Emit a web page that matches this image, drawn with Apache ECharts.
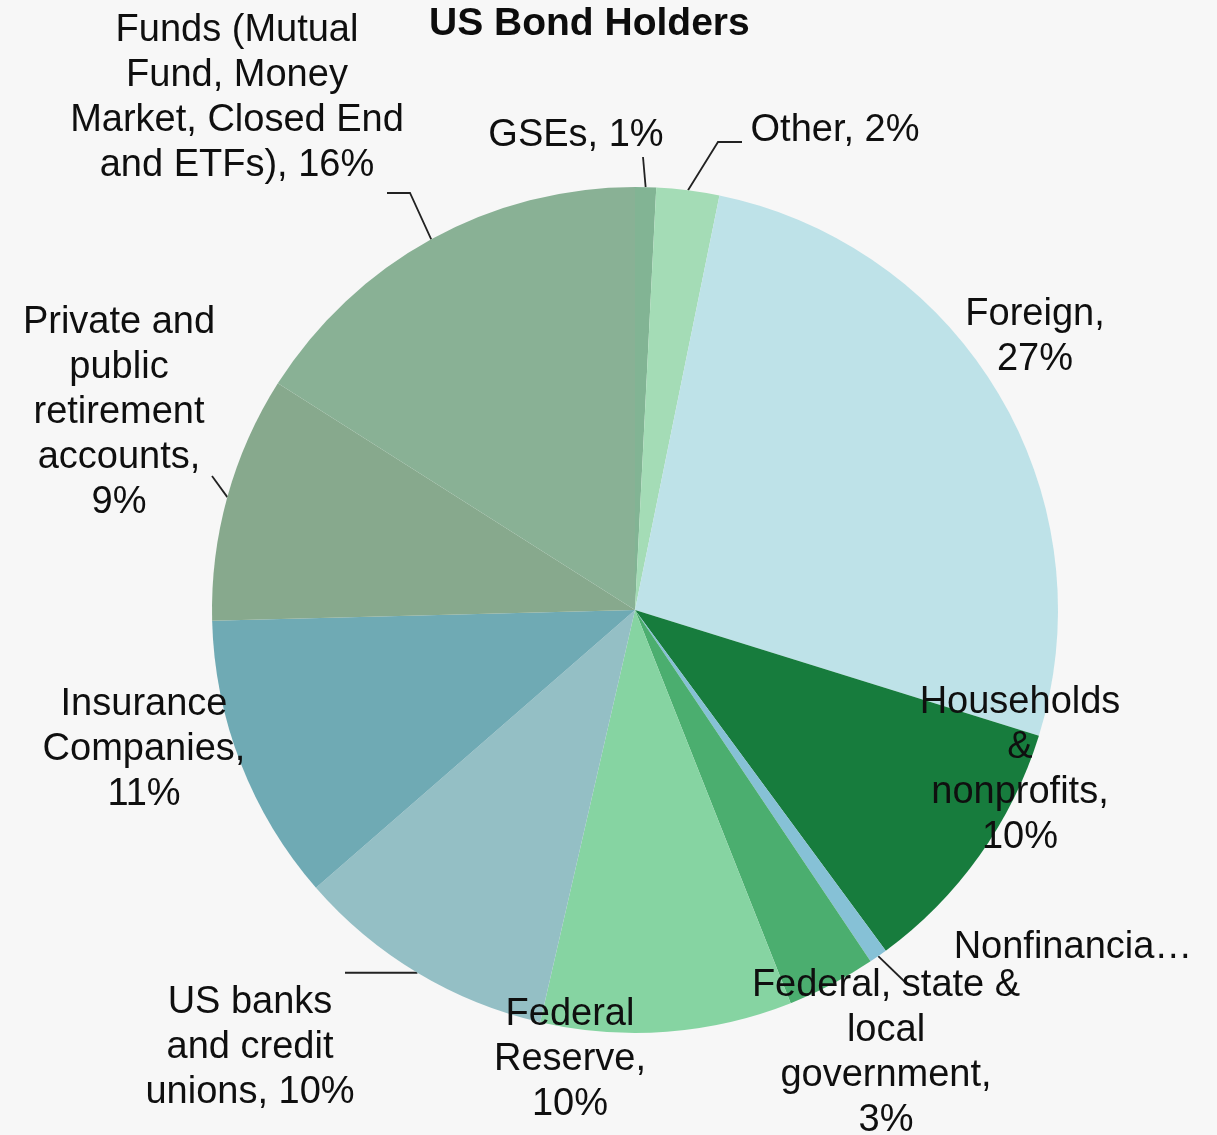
<!DOCTYPE html>
<html>
<head>
<meta charset="utf-8">
<title>US Bond Holders</title>
<script src="https://cdn.jsdelivr.net/npm/echarts@6/dist/echarts.min.js"></script>
<style>
  html, body { margin: 0; padding: 0; background: #f7f7f7; }
  #chart { width: 1217px; height: 1135px; }
</style>
</head>
<body>
<div id="chart"></div>
<script>
// Holders of US bonds, share of total (%), clockwise from 12 o'clock
const categories = [
  'GSEs',
  'Other',
  'Foreign',
  'Households & nonprofits',
  'Nonfinancial corporate business',
  'Federal, state & local government',
  'Federal Reserve',
  'US banks and credit unions',
  'Insurance Companies',
  'Private and public retirement accounts',
  'Funds (Mutual Fund, Money Market, Closed End and ETFs)'
];
const shares = [0.8, 2.4, 26.6, 10.1, 0.7, 3.4, 9.6, 10.0, 11.0, 9.4, 16.0];

// Label text as wrapped on the chart; {p} is replaced by the rounded share
const labelText = [
  'GSEs, {p}',
  'Other, {p}',
  'Foreign,\n{p}',
  'Households\n&\nnonprofits,\n{p}',
  'Nonfinancial corporate business, {p}',
  'Federal, state &\nlocal\ngovernment,\n{p}',
  'Federal\nReserve,\n{p}',
  'US banks\nand credit\nunions, {p}',
  'Insurance\nCompanies,\n{p}',
  'Private and\npublic\nretirement\naccounts,\n{p}',
  'Funds (Mutual\nFund, Money\nMarket, Closed End\nand ETFs), {p}'
];

const colors = [
  '#82b494', '#a4dcb6', '#bee2e8', '#177c3d', '#86c1d6', '#4bae6f',
  '#86d4a2', '#94bfc5', '#6faab4', '#87a98d', '#89b195'
];

// Label block centres
const labelCenter = [
  [576, 136], [835, 131], [1035, 337], [1020, 770], [1073, 948],
  [886, 1053], [570, 1060], [250, 1048], [144, 750], [119, 413], [237, 98]
];

// Leader lines: elbow and end point after the rim point (null = no line)
const leaders = [
  [[643, 157], [643, 157]],
  [[718, 142], [742, 142]],
  null,
  null,
  [[905, 982], [905, 982]],
  null,
  null,
  'horizontal-345',
  null,
  [[212, 476], [212, 476]],
  [[410, 193], [387, 193]]
];

const total = shares.reduce((a, b) => a + b, 0);
const FONT = '"Liberation Sans", Arial, sans-serif';

const chart = echarts.init(document.getElementById('chart'), null, { renderer: 'canvas' });

const seriesData = categories.map((name, i) => ({
  name: name,
  value: shares[i],
  itemStyle: { color: colors[i] },
  labelLine: { show: leaders[i] !== null },
  label: i === 4 ? { width: 243, overflow: 'truncate', ellipsis: '…' } : {}
}));

chart.setOption({
  backgroundColor: '#f7f7f7',
  animation: false,
  title: {
    text: 'US Bond Holders',
    left: 424,
    top: 0,
    textStyle: { fontFamily: FONT, fontSize: 39, fontWeight: 'bold', color: '#0d0d0d' }
  },
  series: [{
    type: 'pie',
    center: [635, 610],
    radius: 423,
    startAngle: 90,
    clockwise: true,
    avoidLabelOverlap: false,
    itemStyle: { borderWidth: 0 },
    emphasis: { disabled: true },
    label: {
      show: true,
      position: 'outside',
      fontFamily: FONT,
      fontSize: 38,
      lineHeight: 45,
      color: '#0f0f0f',
      align: 'center',
      formatter: (p) => labelText[p.dataIndex].replace('{p}', Math.round(p.value / total * 100) + '%')
    },
    labelLine: {
      length: 20,
      length2: 20,
      lineStyle: { color: '#222', width: 1.8 }
    },
    labelLayout: (params) => {
      const i = params.dataIndex;
      const c = labelCenter[i];
      const out = { x: c[0], y: c[1], align: 'center', verticalAlign: 'middle' };
      const lead = leaders[i];
      if (lead && params.labelLinePoints) {
        const rim = params.labelLinePoints[0];
        if (lead === 'horizontal-345') {
          out.labelLinePoints = [rim, [345, rim[1]], [345, rim[1]]];
        } else {
          out.labelLinePoints = [rim, lead[0], lead[1]];
        }
      }
      return out;
    },
    data: seriesData
  }]
});
</script>
</body>
</html>
